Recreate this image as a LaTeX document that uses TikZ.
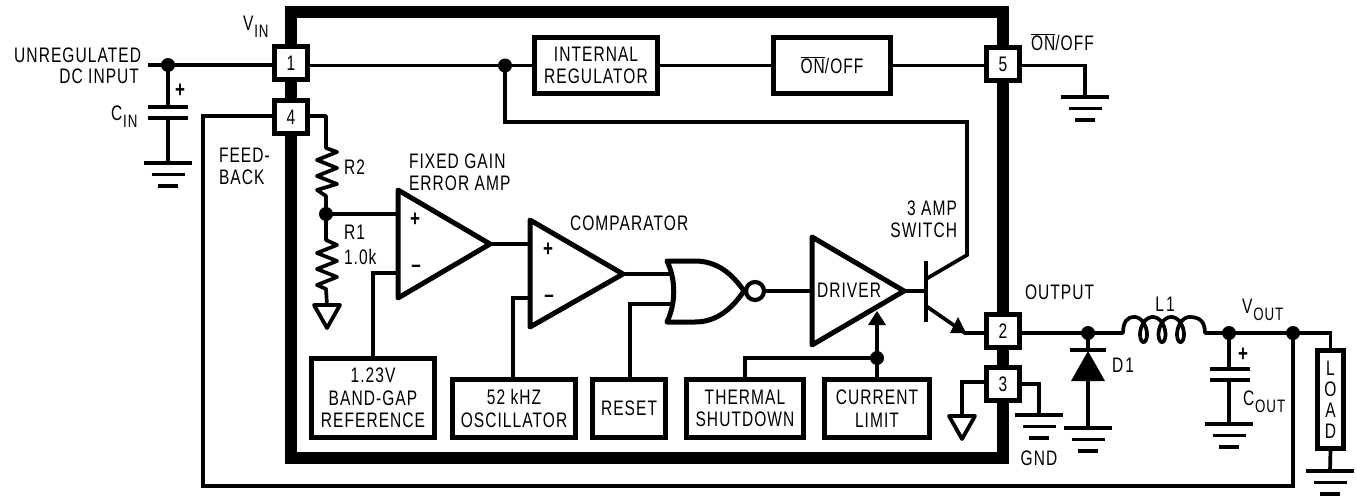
\documentclass[tikz,border=0pt]{standalone}
\usepackage{fontspec}
\setmainfont{Liberation Sans}[FakeStretch=0.74,LetterSpace=5]
\newcommand{\subl}[2]{#1\kern1pt\raisebox{-7.5pt}{\fontsize{18}{18}\selectfont #2}}
\newcommand{\onoff}{$\overline{\hbox{ON}}$/OFF}
\tikzset{
  wire/.style={line width=3.7pt,line cap=butt,line join=miter},
  amp/.style={line width=5pt,line join=round,line cap=round},
  frameline/.style={line width=12pt,line join=miter},
  lab/.style={inner sep=0pt,outer sep=0pt,text height=15pt,text depth=0pt},
  sublab/.style={inner sep=0pt,outer sep=0pt,anchor=base west},
  signlab/.style={inner sep=0pt,outer sep=0pt,font=\fontsize{23}{23}\selectfont\bfseries},
  blockbox/.style={draw,line width=5pt,fill=white,inner sep=0pt,outer sep=0pt,align=center},
  pinbox/.style={draw,line width=5.4pt,fill=white,inner sep=0pt,outer sep=0pt,minimum width=32.6pt,minimum height=32.6pt,text height=15pt,text depth=0pt},
  dotn/.style={circle,fill=black,inner sep=0pt,minimum size=14pt,outer sep=0pt},
  earth/.pic={
    \draw[line width=3.8pt] (-24,0)--(24,0);
    \draw[line width=3.8pt] (-16.5,11.5)--(16.5,11.5);
    \draw[line width=3.8pt] (-10,23)--(10,23);
  },
  sgnd/.pic={
    \draw[line width=3.8pt,line join=round] (-13,0)--(13,0)--(0,23)--cycle;
  },
}
\begin{document}
\begin{tikzpicture}[x=1pt,y=-1pt,font=\fontsize{21}{22.5}\selectfont]
\useasboundingbox (0,0) rectangle (1357,498);
\draw[frameline] (291,12) rectangle (1002.5,457.5);

% pins
\node[pinbox] (p1) at (291,63) {1};
\node[pinbox] (p4) at (291,117) {4};
\node[pinbox] (p5) at (1003,64) {5};
\node[pinbox] (p2) at (1003,331) {2};
\node[pinbox] (p3) at (1003,384) {3};

% blocks
\node[blockbox,minimum width=123pt,minimum height=56pt] (reg) at (596,65.5) {INTERNAL\\REGULATOR};
\node[blockbox,minimum width=117pt,minimum height=56pt] (onb) at (832,65.5) {\onoff};
\node[blockbox,minimum width=123pt,minimum height=79pt] (bg) at (373,398) {1.23V\\BAND-GAP\\REFERENCE};
\node[blockbox,minimum width=123pt,minimum height=58pt] (osc) at (514,408.5) {52 kHZ\\OSCILLATOR};
\node[blockbox,minimum width=73pt,minimum height=58pt] (rst) at (629,408.5) {RESET};
\node[blockbox,minimum width=117pt,minimum height=58pt] (thm) at (745,408.5) {THERMAL\\SHUTDOWN};
\node[blockbox,minimum width=105pt,minimum height=58pt] (cur) at (877,408.5) {CURRENT\\LIMIT};
\node[blockbox,minimum width=26pt,minimum height=98pt,font=\fontsize{21}{21}\selectfont] (load) at (1330.5,399.5) {L\\O\\A\\D};

% dots
\node[dotn] (din) at (168,65) {};
\node[dotn] (dreg) at (505,65.5) {};
\node[dotn] (dfb) at (326,214) {};
\node[dotn] (dcur) at (877,358) {};
\node[dotn] (dsw) at (1088,333) {};
\node[dotn] (dout) at (1229,333) {};
\node[dotn] (dvo) at (1293,333) {};

% named points
\coordinate (instart) at (148,65);
\coordinate (cinA) at (168,107);
\coordinate (cinB) at (168,118);
\coordinate (cinG) at (168,163);
\coordinate (fbL) at (203,116);
\coordinate (fbB) at (203,486);
\coordinate (fbR) at (1293,486);
\coordinate (r2top) at (326,148);
\coordinate (r2bot) at (326,196);
\coordinate (r1top) at (326,240);
\coordinate (r1bot) at (326,289);
\coordinate (r1g) at (327,305);
\coordinate (a1p) at (398,214);
\coordinate (a1m) at (398,273);
\coordinate (a1o) at (490,244);
\coordinate (a2p) at (530,244);
\coordinate (a2m) at (530,298);
\coordinate (a2o) at (623,274);
\coordinate (n1) at (673,274);
\coordinate (n2) at (674,304);
\coordinate (nout) at (766,291);
\coordinate (dri) at (812,291);
\coordinate (dro) at (904,291);
\coordinate (tb) at (926,291);
\coordinate (tc) at (926,279);
\coordinate (te) at (926,306);
\coordinate (tck) at (967,255);
\coordinate (tcu) at (967,122);
\coordinate (trg) at (505,122);
\coordinate (tet) at (965,333);
\coordinate (curtip) at (877,325);

% wires
\draw[wire] (instart) -- (din.center) -- (din -| p1.west);
\draw[wire] (din.center) -- (cinA);
\draw[wire] (cinB) -- (cinG);
\draw[line width=3.8pt] (148,107)--(188,107) (148,118)--(188,118);
\pic at (cinG) {earth};
\draw[wire] (dreg -| p1.east) -- (dreg.center) -- (reg.west);
\draw[wire] (reg.east) -- (onb.west);
\draw[wire] (onb.east) -- (onb -| p5.west);
\draw[wire] (p5.east |- onb) -- (1085,65.5) -- (1085,97);
\pic at (1085,97) {earth};
\draw[wire] (p4.west |- fbL) -- (fbL) -- (fbB) -- (fbR) -- (dvo.center);
\draw[wire,line join=round] (p4.east |- fbL) -| (r2top) -- (337,152) -- (317,160) -- (337,168) -- (317,176) -- (337,184) -- (317,190) -- (r2bot) -- (dfb.center);
\draw[wire] (dfb.center) -- (a1p);
\draw[wire,line join=round] (dfb.center) -- (r1top) -- (337,245) -- (317,253) -- (337,261) -- (317,269) -- (337,277) -- (317,285) -- (r1bot) -- (327,305);
\pic at (r1g) {sgnd};
\draw[amp] (398,190) -- (490,244) -- (398,298) -- cycle;
\draw[wire] (a1o) -- (a2p);
\draw[amp] (530,220) -- (623,274) -- (530,327) -- cycle;
\draw[wire] (bg.north -| 373,0) -- (373,273) -- (a1m);
\draw[wire] (osc.north -| 513,0) -- (513,298) -- (a2m);
\draw[wire] (a2o) -- (n1);
\draw[wire] (rst.north -| 630,0) -- (630,304) -- (n2);
\draw[amp] (667,261) .. controls (676,280) and (676,303) .. (667,322) -- (695,322) .. controls (718,322) and (733,307) .. (744,291) .. controls (733,275) and (718,261) .. (695,261) -- cycle;
\node[circle,draw,line width=4.2pt,fill=white,minimum size=18pt,inner sep=0pt] (bub) at (755,291) {};
\draw[wire] (bub.east) -- (dri);
\draw[amp] (812,237) -- (904,291) -- (812,345) -- cycle;
\draw[wire] (dro) -- (tb);
\draw[line width=4.2pt] (926,261) -- (926,322);
\draw[wire] (tc) -- (tck) -- (tcu) -- (trg) -- (dreg.center);
\draw[wire] (te) -- (tet) -- (tet -| p2.west);
\fill (958,317) -- (966,333) -- (950,333) -- cycle;
\draw[wire] (thm.north -| 745,0) -- (745,358) -- (dcur.center);
\draw[wire] (cur.north -| 877,0) -- (dcur.center);
\draw[line width=4pt] (dcur.center) -- (curtip);
\fill (877,311) -- (886,325) -- (868,325) -- cycle;
\draw[wire] (p3.west |- 0,382) -- (962,382) -- (962,416);
\pic at (962,416) {sgnd};
\draw[wire] (p3.east) -- (1039,384) -- (1039,415);
\pic at (1039,415) {earth};

% output side
\draw[wire] (p2.east |- 0,333) -- (dsw.center) -- (1123,333);
\draw[line width=3.8pt] (1070,350) -- (1106,350);
\fill (1088,351) -- (1105,381) -- (1071,381) -- cycle;
\draw[wire] (dsw.center) -- (1088,350);
\draw[wire] (1088,381) -- (1088,428);
\pic at (1088,428) {earth};
\draw[wire,line cap=round] (1123,333) .. controls (1123,322) and (1127,317) .. (1134.25,317);
\draw[wire,line cap=round] plot[domain=-540:540,samples=181,smooth] ({1162+2.944*\x*pi/180-7.5*sin(\x)},{329.5+12.5*cos(\x)});
\draw[wire,line cap=round] (1189.75,317) .. controls (1200,317) and (1205,322) .. (1205,333);
\draw[wire] (1205,333) -- (dout.center) -- (dvo.center) -| (load.north);
\draw[wire] (dout.center) -- (1229,369);
\draw[line width=3.8pt] (1210,369)--(1250,369) (1210,380)--(1250,380);
\draw[wire] (1229,380) -- (1229,424);
\pic at (1229,424) {earth};
\draw[wire] (load.south) -- (1330,471);
\pic at (1330,471) {earth};

% labels
\node[lab,anchor=east] (t1) at (141,55) {UNREGULATED};
\node[lab,anchor=east] (t2) at (139,76) {DC INPUT};
\node[signlab] (t3) at (180,91) {+};
\node[sublab] (t4) at (111,120) {\subl{C}{IN}};
\node[sublab] (t5) at (243,30) {\subl{V}{IN}};
\node[lab,anchor=west] (t6) at (219,155) {FEED-};
\node[lab,anchor=west] (t7) at (219,177) {BACK};
\node[lab,anchor=west] (t8) at (344,167) {R2};
\node[lab,anchor=west] (t9) at (344,232) {R1};
\node[lab,anchor=west] (t10) at (344,257) {1.0k};
\node[lab,anchor=west] (t11) at (409,161) {FIXED GAIN};
\node[lab,anchor=west] (t12) at (409,183) {ERROR AMP};
\node[signlab] (t13) at (415,220) {+};
\node[signlab] (t14) at (416,269) {–};
\node[signlab] (t15) at (548,250) {+};
\node[signlab] (t16) at (549,299) {–};
\node[lab,anchor=west] (t17) at (570,223) {COMPARATOR};
\node[lab,anchor=center] (t18) at (849,290) {DRIVER};
\node[lab,anchor=east] (t19) at (957,208) {3 AMP};
\node[lab,anchor=east] (t20) at (957,230) {SWITCH};
\node[sublab] (t21) at (1031,50) {\onoff};
\node[lab,anchor=west] (t22) at (1025,292) {OUTPUT};
\node[lab,anchor=center] (t23) at (1165,304) {L\kern2pt1};
\node[lab,anchor=center] (t24) at (1123,365) {D\kern2pt1};
\node[sublab] (t25) at (1242,313) {\subl{V}{OUT}};
\node[signlab] (t26) at (1243,355) {+};
\node[sublab] (t27) at (1243,405) {\subl{C}{OUT}};
\node[lab,anchor=center] (t28) at (1039,458) {GND};
\end{tikzpicture}
\end{document}
